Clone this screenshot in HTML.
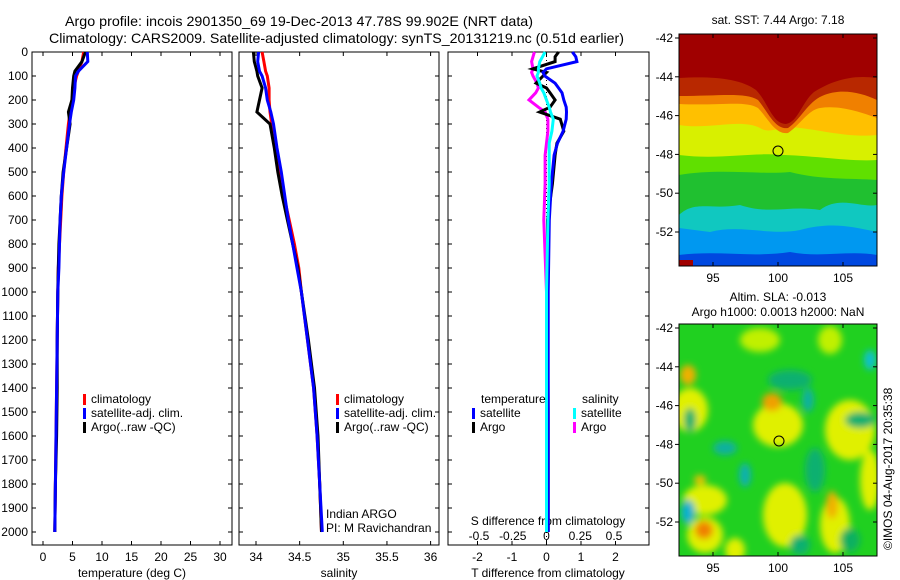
<!DOCTYPE html>
<html><head><meta charset="utf-8"><style>
html,body{margin:0;padding:0;background:#fff;}
svg{display:block;font-family:"Liberation Sans",sans-serif;}
</style></head><body>
<svg id="fig" width="900" height="580" viewBox="0 0 900 580" xmlns="http://www.w3.org/2000/svg">
<defs>
<filter id="blur" x="-10%" y="-10%" width="120%" height="120%"><feGaussianBlur stdDeviation="3.5"/></filter>
<clipPath id="clipTop"><rect x="679" y="34" width="198" height="232"/></clipPath>
<clipPath id="clipBot"><rect x="679" y="324" width="198" height="232"/></clipPath>
</defs>
<text x="65" y="26" font-size="14" textLength="468" lengthAdjust="spacingAndGlyphs">Argo profile: incois 2901350_69 19-Dec-2013 47.78S 99.902E (NRT data)</text>
<text x="49" y="43" font-size="14" textLength="575" lengthAdjust="spacingAndGlyphs">Climatology: CARS2009. Satellite-adjusted climatology: synTS_20131219.nc (0.51d earlier)</text>

<!-- top map -->
<g clip-path="url(#clipTop)">
<rect x="679" y="34" width="198" height="232" fill="#0048e0"/>
<path d="M679 34H877V255C850 250 820 258 790 252C750 258 720 250 679 255Z" fill="#0098f0"/>
<path d="M679 34H877V232C850 226 830 222 800 230C770 236 740 224 710 232L679 228Z" fill="#10c8c0"/>
<path d="M679 34H877V205C860 208 840 195 820 210C790 205 770 215 740 205C710 210 695 200 679 215Z" fill="#20c030"/>
<path d="M679 34H877V180C850 178 820 180 790 172C760 175 720 168 679 175Z" fill="#60e000"/>
<path d="M679 34H877V160C850 162 810 155 780 155C750 152 720 160 679 155Z" fill="#d8f000"/>
<path d="M679 34H877V135C850 138 820 130 800 128C780 125 770 135 760 128C740 118 710 130 679 125Z" fill="#ffc000"/>
<path d="M679 34H877V118C860 112 840 105 820 108C808 110 800 125 788 133C775 135 768 118 758 108C745 100 720 106 679 104Z" fill="#f08000"/>
<path d="M679 34H877V100C860 92 840 88 822 96C808 102 800 120 788 128C775 130 768 112 758 100C745 92 720 96 679 96Z" fill="#b82800"/>
<path d="M679 34H877V78C850 74 830 82 814 92C802 102 798 122 786 124C772 124 768 102 756 90C740 78 710 76 679 78Z" fill="#a00000"/>
<rect x="679" y="260" width="14" height="6" fill="#a00000"/>
</g>
<rect x="679" y="34" width="198" height="232" fill="none" stroke="#000"/>
<circle cx="778" cy="151" r="5" fill="none" stroke="#000"/>

<!-- bottom map -->
<g clip-path="url(#clipBot)">
<rect x="679" y="324" width="198" height="232" fill="#20d020"/>
<g filter="url(#blur)">
<ellipse cx="690" cy="410" rx="18" ry="22" fill="#e0f000"/>
<ellipse cx="778" cy="425" rx="25" ry="22" fill="#e0f000"/>
<ellipse cx="850" cy="430" rx="25" ry="30" fill="#e0f000"/>
<ellipse cx="705" cy="500" rx="22" ry="15" fill="#e0f000"/>
<ellipse cx="785" cy="515" rx="22" ry="32" fill="#e0f000"/>
<ellipse cx="835" cy="525" rx="15" ry="28" fill="#e0f000"/>
<ellipse cx="705" cy="535" rx="18" ry="18" fill="#e0f000"/>
<ellipse cx="735" cy="550" rx="10" ry="12" fill="#e0f000"/>
<ellipse cx="760" cy="340" rx="20" ry="12" fill="#c0f000"/>
<ellipse cx="830" cy="340" rx="12" ry="14" fill="#c0f000"/>
<ellipse cx="870" cy="480" rx="10" ry="30" fill="#e0f000"/>
<ellipse cx="772" cy="402" rx="10" ry="9" fill="#f0a000"/>
<ellipse cx="704" cy="530" rx="9" ry="9" fill="#f08000"/>
<ellipse cx="832" cy="505" rx="6" ry="14" fill="#f0b000"/>
<ellipse cx="688" cy="375" rx="8" ry="10" fill="#f0b000"/>
<ellipse cx="700" cy="480" rx="6" ry="5" fill="#f0c000"/>
<ellipse cx="790" cy="380" rx="22" ry="10" fill="#10b070"/>
<ellipse cx="808" cy="400" rx="6" ry="12" fill="#10b0a0"/>
<ellipse cx="725" cy="448" rx="12" ry="7" fill="#10b0a0"/>
<ellipse cx="690" cy="420" rx="6" ry="12" fill="#10b070"/>
<ellipse cx="688" cy="512" rx="7" ry="12" fill="#10b0d0"/>
<ellipse cx="745" cy="475" rx="6" ry="12" fill="#10b0b0"/>
<ellipse cx="870" cy="360" rx="6" ry="10" fill="#10c0d0"/>
<ellipse cx="860" cy="420" rx="15" ry="8" fill="#10b070"/>
<ellipse cx="815" cy="470" rx="10" ry="22" fill="#10b070"/>
<ellipse cx="800" cy="545" rx="10" ry="10" fill="#10b070"/>
<ellipse cx="850" cy="540" rx="10" ry="12" fill="#10b060"/>
</g>
</g>
<rect x="679" y="324" width="198" height="232" fill="none" stroke="#000"/>
<circle cx="779" cy="441" r="5" fill="none" stroke="#000"/>

<g font-size="12" text-anchor="middle">
<text x="778" y="24">sat. SST: 7.44  Argo: 7.18</text>
<text x="778" y="301">Altim. SLA: -0.013</text>
<text x="778" y="316">Argo h1000: 0.0013 h2000: NaN</text>
</g>
<text transform="translate(892,550) rotate(-90)" font-size="12">©IMOS 04-Aug-2017 20:35:38</text>
<g id="maps-axes"></g>
<g id="plots"></g>
</svg>
<script>
// ---- data ----
const depths = [0, 40, 80, 100, 150, 200, 250, 300, 400, 500, 600, 700, 800, 900, 1000, 1200, 1400, 1600, 1800, 2000];
const tempClim = [6.9, 6.6, 6.0, 5.7, 5.2, 4.9, 4.6, 4.3, 3.9, 3.5, 3.2, 3.0, 2.8, 2.6, 2.5, 2.4, 2.3, 2.2, 2.1, 2.0];
const tempSat = [7.5, 7.6, 6.0, 5.5, 5.4, 5.2, 4.8, 4.5, 4.0, 3.5, 3.1, 2.9, 2.8, 2.7, 2.5, 2.4, 2.3, 2.2, 2.1, 2.0];
const tempArgo = [7.2, 6.6, 5.4, 5.2, 5.0, 4.9, 4.3, 4.6, 4.0, 3.4, 3.1, 2.9, 2.7, 2.6, 2.5, 2.4, 2.4, 2.3, 2.1, 2.0];
const salClim = [34.07, 34.09, 34.11, 34.13, 34.15, 34.15, 34.16, 34.18, 34.22, 34.27, 34.32, 34.38, 34.44, 34.49, 34.52, 34.59, 34.66, 34.70, 34.73, 34.75];
const salSat = [34.03, 34.02, 34.04, 34.07, 34.11, 34.13, 34.17, 34.20, 34.24, 34.29, 34.33, 34.37, 34.42, 34.47, 34.52, 34.59, 34.66, 34.70, 34.73, 34.76];
const salArgo = [33.97, 33.98, 34.01, 34.02, 34.07, 34.04, 34.01, 34.16, 34.21, 34.25, 34.30, 34.36, 34.42, 34.48, 34.52, 34.60, 34.67, 34.71, 34.73, 34.75];
const diffDepths = [0, 20, 40, 70, 85, 100, 130, 150, 170, 200, 230, 250, 280, 330, 380, 430, 550, 700, 1000, 1500, 2000];
const tDiffSat = [0.75, 0.85, 0.88, 0.0, -0.1, -0.05, 0.25, 0.35, 0.45, 0.5, 0.57, 0.58, 0.57, 0.48, 0.32, 0.22, 0.14, 0.08, 0.05, 0.05, 0.05];
const tDiffArgo = [0.35, 0.25, 0.25, -0.4, 0.0, -0.1, -0.3, 0.0, 0.1, 0.25, 0.1, -0.2, 0.4, 0.5, 0.3, 0.25, 0.17, 0.03, 0.03, 0.05, 0.05];
const sDiffSat = [-0.01, -0.03, -0.05, -0.06, -0.06, -0.07, -0.05, -0.04, -0.02, 0.0, 0.02, 0.03, 0.05, 0.04, 0.02, 0.02, 0.02, 0.01, 0.0, 0.0, 0.0];
const sDiffArgo = [-0.09, -0.1, -0.11, -0.1, -0.11, -0.1, -0.07, -0.06, -0.08, -0.13, -0.06, -0.01, 0.01, 0.01, 0.0, -0.01, -0.01, -0.02, 0.0, 0.01, 0.0];
const yTicks = [0,100,200,300,400,500,600,700,800,900,1000,1100,1200,1300,1400,1500,1600,1700,1800,1900,2000];
const tTicks = [0,5,10,15,20,25,30];
const sTicks = [34,34.5,35,35.5,36];
const sTickLabels = ['34','34.5','35','35.5','36'];
const dTTicks = [-2,-1,0,1,2];
const dSTicks = [-0.5,-0.25,0,0.25,0.5];
const latTicks = [-42,-44,-46,-48,-50,-52];
const lonTicks = [95,100,105];

const NS = 'http://www.w3.org/2000/svg';
const plots = document.getElementById('plots');
function mk(tag, attrs, parent, txt){
  const e = document.createElementNS(NS, tag);
  for (const k in attrs) e.setAttribute(k, attrs[k]);
  if (txt !== undefined) e.textContent = txt;
  (parent || plots).appendChild(e);
  return e;
}
const Y0 = 52, YB = 545;
const yS = d => Y0 + d * 0.24;
const xT = t => 43 + t * 5.9;
const xS = s => 256 + (s - 34) * 87.3;
const xDT = v => 546.5 + v * 34.5;
const xDS = v => 546.5 + v * 135;

const panels = [{x0:32,x1:232,name:'temperature-panel'},{x0:239,x1:439,name:'salinity-panel'},{x0:448,x1:649,name:'difference-panel'}];
panels.forEach(p => {
  const r = mk('rect', {x:p.x0, y:Y0, width:p.x1-p.x0, height:YB-Y0, fill:'none', stroke:'#000'});
  
  
  yTicks.forEach(d => {
    const t1 = mk('line', {x1:p.x0, x2:p.x0+4, y1:yS(d), y2:yS(d), stroke:'#000'});
    
    
    const t2 = mk('line', {x1:p.x1-4, x2:p.x1, y1:yS(d), y2:yS(d), stroke:'#000'});
    
    
  });
});
yTicks.forEach(d => {
  const t = mk('text', {x:28, y:yS(d)+4, 'font-size':12, 'text-anchor':'end'}, plots, String(d));
  
  
});
function xAxis(ticks, labels, fx, yLab, withTicks){
  ticks.forEach((v,i) => {
    const x = fx(v);
    if (withTicks){
      const a = mk('line', {x1:x, x2:x, y1:YB-4, y2:YB, stroke:'#000'});
      
      
      const b = mk('line', {x1:x, x2:x, y1:Y0, y2:Y0+4, stroke:'#000'});
      
      
    }
    const t = mk('text', {x:x, y:yLab, 'font-size':12, 'text-anchor':'middle'}, plots, labels[i]);
    
    
  });
}
xAxis(tTicks, tTicks.map(String), xT, 561, true);
xAxis(sTicks, sTickLabels, xS, 561, true);
xAxis(dTTicks, dTTicks.map(String), xDT, 561, true);
xAxis(dSTicks, dSTicks.map(String), xDS, 540, false);
[[132,577,'temperature (deg C)','x-axis-title-temperature'],[339,577,'salinity','x-axis-title-salinity'],[548,577,'T difference from climatology','x-axis-title-t-diff'],[548,525,'S difference from climatology','axis-title-s-diff']].forEach(a => {
  const t = mk('text', {x:a[0], y:a[1], 'font-size':12, 'text-anchor':'middle'}, plots, a[2]);
  
  
});
const zl = mk('line', {x1:xDT(0), x2:xDT(0), y1:Y0, y2:YB, stroke:'#000', 'stroke-dasharray':'1,3'});



function series(ds, vals, fx, color, name){
  const pts = ds.map((d,i) => fx(vals[i]).toFixed(1) + ',' + yS(d).toFixed(1)).join(' ');
  const l = mk('polyline', {points:pts, fill:'none', stroke:color, 'stroke-width':3, 'stroke-linejoin':'miter'});
  
  
}
series(depths, tempClim, xT, '#ff0000', 'temp-climatology-line');
series(depths, tempArgo, xT, '#000000', 'temp-argo-line');
series(depths, tempSat, xT, '#0000ff', 'temp-satellite-line');
series(depths, salClim, xS, '#ff0000', 'sal-climatology-line');
series(depths, salArgo, xS, '#000000', 'sal-argo-line');
series(depths, salSat, xS, '#0000ff', 'sal-satellite-line');
series(diffDepths, sDiffArgo, xDS, '#ff00ff', 's-diff-argo-line');
series(diffDepths, tDiffArgo, xDT, '#000000', 't-diff-argo-line');
series(diffDepths, tDiffSat, xDT, '#0000ff', 't-diff-satellite-line');
series(diffDepths, sDiffSat, xDS, '#00ffff', 's-diff-satellite-line');

function legend(x, y, items){
  items.forEach((it,i) => {
    const yy = y + i*14;
    const m = mk('rect', {x:x, y:yy-9, width:3, height:11, fill:it[0]});
    
    
    const t = mk('text', {x:x+8, y:yy, 'font-size':12}, plots, it[1]);
    
    
  });
}
legend(83, 403, [['#ff0000','climatology'],['#0000ff','satellite-adj. clim.'],['#000000','Argo(..raw -QC)']]);
legend(336, 403, [['#ff0000','climatology'],['#0000ff','satellite-adj. clim.'],['#000000','Argo(..raw -QC)']]);
legend(472, 417, [['#0000ff','satellite'],['#000000','Argo']]);
legend(573, 417, [['#00ffff','satellite'],['#ff00ff','Argo']]);
[[481,403,'temperature','legend-title-temperature'],[582,403,'salinity','legend-title-salinity'],[326,518,'Indian ARGO','credit-line-1'],[326,532,'PI: M Ravichandran','credit-line-2']].forEach(a => {
  const t = mk('text', {x:a[0], y:a[1], 'font-size':12}, plots, a[2]);
  
  
});

// map axes
const ma = document.getElementById('maps-axes');
[[34,266,38],[324,556,328]].forEach(m => {
  latTicks.forEach((lat,i) => {
    const y = m[2] + i*38.8;
    const a = mk('line', {x1:873, x2:877, y1:y, y2:y, stroke:'#000'}, ma);
    
    
    const b = mk('line', {x1:675, x2:679, y1:y, y2:y, stroke:'#000'}, ma);
    
    
    const t = mk('text', {x:673, y:y+4, 'font-size':12, 'text-anchor':'end'}, ma, String(lat));
    
    
  });
  lonTicks.forEach(lon => {
    const x = 778 + (lon-100)*13;
    const a = mk('line', {x1:x, x2:x, y1:m[1]-4, y2:m[1], stroke:'#000'}, ma);
    
    
    const b = mk('line', {x1:x, x2:x, y1:m[0], y2:m[0]+4, stroke:'#000'}, ma);
    
    
    const t = mk('text', {x:x, y:m[1]+16, 'font-size':12, 'text-anchor':'middle'}, ma, String(lon));
    
    
  });
});
</script>
</body></html>
